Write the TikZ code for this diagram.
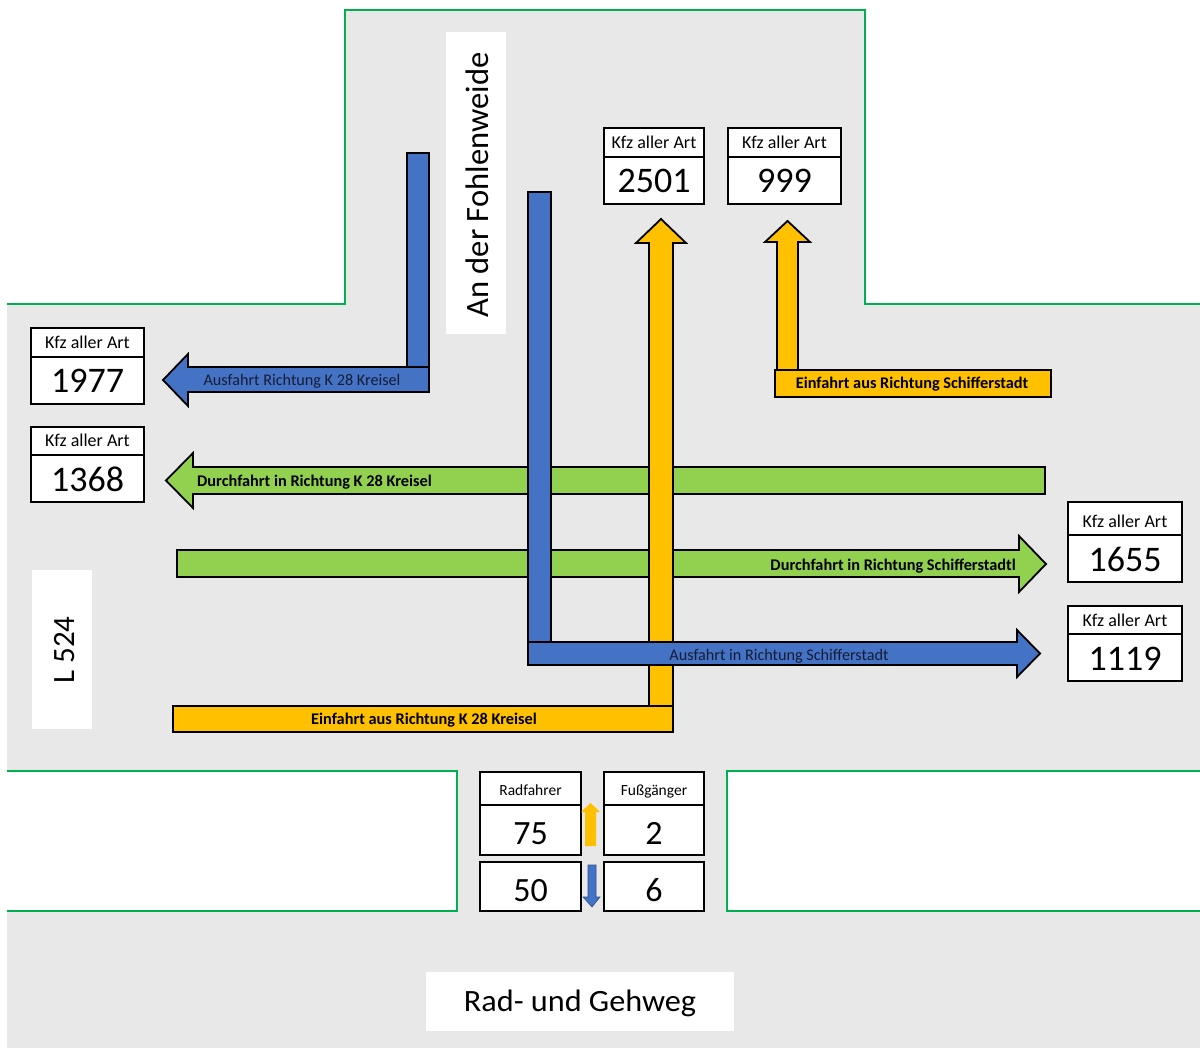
\documentclass[tikz,border=0pt]{standalone}
\usepackage{fontspec}
\setmainfont{Carlito}
\definecolor{roadgray}{RGB}{232,232,232}
\definecolor{edgegreen}{RGB}{0,176,80}
\definecolor{ablue}{RGB}{68,114,196}
\definecolor{ayellow}{RGB}{255,192,0}
\definecolor{agreen}{RGB}{146,208,80}
\definecolor{navytxt}{RGB}{22,28,52}
\begin{document}
\begin{tikzpicture}[x=1pt,y=-1pt,
  roadedge/.style={draw=edgegreen,line width=2.5pt},
  arrowbody/.style={draw=black,line width=1.8pt,line join=miter},
  cbox/.style={draw=black,fill=white,line width=2pt},
  hdrtxt/.style={font=\fontsize{18}{20}\selectfont,inner sep=0pt,anchor=base},
  smalltxt/.style={font=\fontsize{15.5}{18}\selectfont,inner sep=0pt,anchor=base},
  numtxt/.style={font=\fontsize{36}{40}\selectfont,inner sep=0pt,anchor=base},
  bnumtxt/.style={font=\fontsize{34}{38}\selectfont,inner sep=0pt,anchor=base},
  lbl/.style={font=\fontsize{16.2}{18}\selectfont,inner sep=0pt,anchor=base,text=navytxt},
  blbl/.style={font=\bfseries\fontsize{16.3}{18}\selectfont,inner sep=0pt,anchor=base,text=black},
  roadname/.style={inner sep=0pt,anchor=base}
]
\useasboundingbox (0,0) rectangle (1200,1048);
\fill[white] (0,0) rectangle (1200,1048);
% road surfaces
\fill[roadgray] (7,304) -- (345,304) -- (345,10) -- (865,10) -- (865,304) -- (1200,304) -- (1200,1048) -- (7,1048) -- cycle;
\fill[white] (7,771) rectangle (457,911);
\fill[white] (727,771) rectangle (1200,911);
% road edges
\draw[roadedge] (7,304) -- (345,304) -- (345,10) -- (865,10) -- (865,304) -- (1200,304);
\draw[roadedge] (7,771) -- (457,771) -- (457,911) -- (7,911);
\draw[roadedge] (1200,771) -- (727,771) -- (727,911) -- (1200,911);
% road names
\fill[white] (446,32) rectangle (506,334);
\node[roadname,rotate=90,font=\fontsize{32.6}{36}\selectfont] (fohlen) at (488,185) {An der Fohlenweide};
\fill[white] (32,570) rectangle (92,729);
\node[roadname,rotate=90,font=\fontsize{31}{34}\selectfont] (l524) at (74,650) {L 524};
\fill[white] (426,972) rectangle (734,1031);
\node[roadname,font=\fontsize{31}{34}\selectfont,xscale=1.04] (radweg) at (580,1011) {Rad- und Gehweg};
% green through arrows
\draw[arrowbody,fill=agreen] (1045,467) -- (193,467) -- (193,453) -- (166,480.5) -- (193,508) -- (193,494) -- (1045,494) -- cycle;
\draw[arrowbody,fill=agreen] (177,550) -- (1019,550) -- (1019,536) -- (1046,564) -- (1019,592) -- (1019,577) -- (177,577) -- cycle;
% yellow entry arrows
\draw[arrowbody,fill=ayellow] (173,706) rectangle (673,732);
\draw[arrowbody,fill=ayellow] (649,706) -- (649,243) -- (636,243) -- (661,219) -- (686,243) -- (673,243) -- (673,706) -- cycle;
\draw[arrowbody,fill=ayellow] (775,370) rectangle (1051,397);
\draw[arrowbody,fill=ayellow] (777,370) -- (777,242) -- (765,242) -- (787.5,221) -- (810,242) -- (798,242) -- (798,370) -- cycle;
% blue exit arrows
\draw[arrowbody,fill=ablue] (528,642) -- (1017,642) -- (1017,630) -- (1040,653.5) -- (1017,677) -- (1017,665) -- (528,665) -- cycle;
\draw[arrowbody,fill=ablue] (528,192) rectangle (551,642);
\draw[arrowbody,fill=ablue] (429,367) -- (188,367) -- (188,354) -- (163,380) -- (188,406) -- (188,392) -- (429,392) -- cycle;
\draw[arrowbody,fill=ablue] (407,153) rectangle (429,367);
% arrow labels
\node[blbl,anchor=base west] (g1) at (197,486) {Durchfahrt in Richtung K 28 Kreisel};
\node[blbl,anchor=base east] (g2) at (1016,570) {Durchfahrt in Richtung Schifferstadtl};
\node[lbl] (b2) at (779,660) {Ausfahrt in Richtung Schifferstadt};
\node[lbl] (b1) at (302,386) {Ausfahrt Richtung K 28 Kreisel};
\node[blbl] (y1) at (424,724) {Einfahrt aus Richtung K 28 Kreisel};
\node[blbl] (y2) at (912,389) {Einfahrt aus Richtung Schifferstadt};
% count boxes
\newcommand\countbox[7]{%
  \draw[cbox] (#2,#3) rectangle (#4,#6);
  \draw[cbox] (#2,#5) -- (#4,#5);
  \node[hdrtxt] (#1h) at ({(#2+#4)/2},{#5-8}) {Kfz aller Art};
  \node[numtxt] (#1n) at ({(#2+#4)/2},{#6-11}) {#7};
}
\countbox{c1977}{31}{328}{144}{357}{404}{1977}
\countbox{c1368}{31}{427}{144}{455}{502}{1368}
\countbox{c2501}{604}{128}{704}{157}{204}{2501}
\countbox{c999}{728}{128}{841}{157}{204}{999}
\countbox{c1655}{1068}{502}{1182}{535}{582}{1655}
\countbox{c1119}{1068}{606}{1182}{634}{681}{1119}
% bicycle / pedestrian boxes
\draw[cbox] (480,772) rectangle (581,805);
\node[smalltxt] (radh) at (530.5,795) {Radfahrer};
\draw[cbox] (480,805) rectangle (581,855);
\node[bnumtxt] (rad1) at (530.5,844) {75};
\draw[cbox] (480,862) rectangle (581,911);
\node[bnumtxt] (rad2) at (530.5,901) {50};
\draw[cbox] (604,772) rectangle (704,805);
\node[smalltxt] (fussh) at (654,795) {Fußgänger};
\draw[cbox] (604,805) rectangle (704,855);
\node[bnumtxt] (fuss1) at (654,844) {2};
\draw[cbox] (604,862) rectangle (704,911);
\node[bnumtxt] (fuss2) at (654,901) {6};
% small direction arrows
\fill[ayellow] (585,846) -- (585,812) -- (581,812) -- (590.5,803) -- (600,812) -- (596,812) -- (596,846) -- cycle;
\draw[fill=ablue,draw=ablue!70!black,line width=0.6pt] (588,865) -- (596,865) -- (596,897) -- (600,897) -- (592,907) -- (583,897) -- (588,897) -- cycle;
\end{tikzpicture}
\end{document}
